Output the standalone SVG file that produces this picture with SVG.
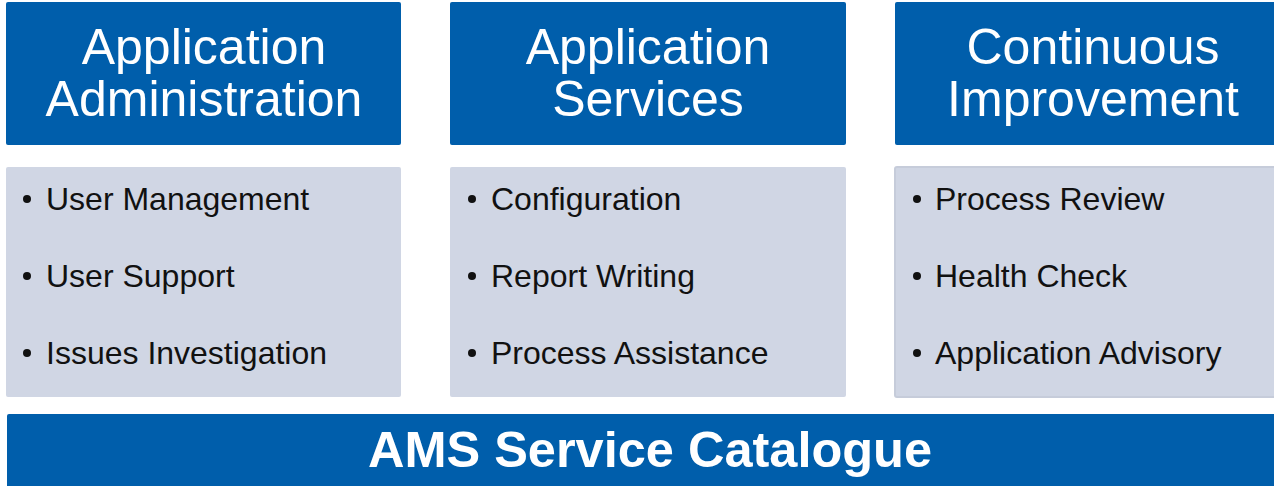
<svg xmlns="http://www.w3.org/2000/svg" width="1274" height="486" viewBox="0 0 1274 486">
<style>
.hdr{fill:#005EAB}
.body{fill:#D0D6E4}
text{font-family:Arial,"Liberation Sans",Helvetica,sans-serif}
.ht{font-size:50px;fill:#fff;text-anchor:middle}
.it{font-size:32px;fill:#111}
.bt{font-size:50.5px;font-weight:bold;fill:#fff;text-anchor:middle}
</style>
<rect width="1274" height="486" fill="#fff"/>
<g id="col1">
<rect class="hdr" x="6" y="2" width="395" height="143" rx="2"/>
<text class="ht" x="204" y="64">Application</text>
<text class="ht" x="204" y="116">Administration</text>
<rect class="body" x="6" y="167" width="395" height="230" rx="2"/>
<g class="it">
<circle cx="27" cy="199" r="4" fill="#111"/><text x="46" y="210">User Management</text>
<circle cx="27" cy="276" r="4" fill="#111"/><text x="46" y="287">User Support</text>
<circle cx="27" cy="353" r="4" fill="#111"/><text x="46" y="364">Issues Investigation</text>
</g>
</g>
<g id="col2">
<rect class="hdr" x="450" y="2" width="396" height="143" rx="2"/>
<text class="ht" x="648" y="64">Application</text>
<text class="ht" x="648" y="116">Services</text>
<rect class="body" x="450" y="167" width="396" height="230" rx="2"/>
<g class="it">
<circle cx="472" cy="199" r="4" fill="#111"/><text x="491" y="210">Configuration</text>
<circle cx="472" cy="276" r="4" fill="#111"/><text x="491" y="287">Report Writing</text>
<circle cx="472" cy="353" r="4" fill="#111"/><text x="491" y="364">Process Assistance</text>
</g>
</g>
<g id="col3">
<rect class="hdr" x="895" y="2" width="395" height="143" rx="2"/>
<text class="ht" x="1093" y="64">Continuous</text>
<text class="ht" x="1093" y="116">Improvement</text>
<rect class="body" x="895" y="167" width="395" height="230" rx="2" stroke="#C6CCDA" stroke-width="2"/>
<g class="it">
<circle cx="917" cy="199" r="4" fill="#111"/><text x="935" y="210">Process Review</text>
<circle cx="917" cy="276" r="4" fill="#111"/><text x="935" y="287">Health Check</text>
<circle cx="917" cy="353" r="4" fill="#111"/><text x="935" y="364">Application Advisory</text>
</g>
</g>
<g id="catalogue">
<rect class="hdr" x="7" y="414" width="1290" height="80" rx="2"/>
<text class="bt" x="650" y="467">AMS Service Catalogue</text>
</g>
<g id="connectors"/>
</svg>
